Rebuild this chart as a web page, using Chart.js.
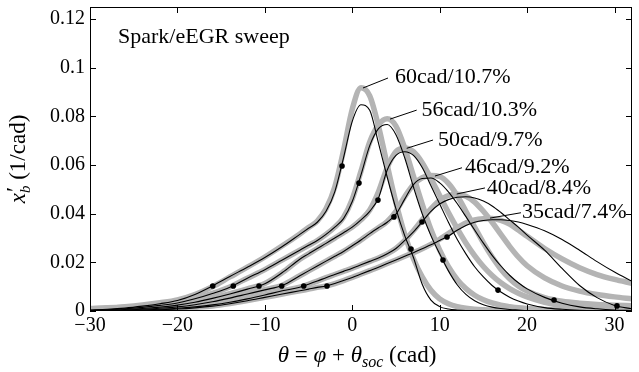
<!DOCTYPE html>
<html><head><meta charset="utf-8">
<script src="https://cdn.jsdelivr.net/npm/chart.js@4.4.0/dist/chart.umd.min.js"></script>
<style>html,body{margin:0;padding:0;background:#fff;}</style>
</head><body>
<canvas id="c" width="639" height="372"></canvas>
<script>
// ---- data ----
const theta = [-30,-28,-26,-24,-22,-20,-18,-16,-14,-12,-10,-8,-6,-5,-4,-3,-2,-1,0,1,2,3,4,5,6,7,8,9,10,11,12,13,14,15,16,17,18,19,20,22,24,26,28,30,32];

// model (thin black)
const m60 = [0.0004,0.0007,0.0012,0.002,0.003,0.0043,0.0068,0.0103,0.0142,0.018,0.022,0.0265,0.0315,0.034,0.0365,0.041,0.049,0.063,0.078,0.0848,0.0825,0.069,0.055,0.042,0.031,0.022,0.011,0.0045,0.0018,0.0008,0.0004,0.0002,0.0001,0,0,0,0,0,0,0,0,0,0,0,0];
const m56 = [0.0003,0.0005,0.0009,0.0015,0.0023,0.0033,0.005,0.0072,0.0098,0.0135,0.017,0.021,0.025,0.027,0.029,0.0315,0.0345,0.038,0.045,0.056,0.068,0.075,0.0767,0.0725,0.063,0.051,0.040,0.031,0.0235,0.0165,0.0108,0.0068,0.0042,0.0026,0.0016,0.001,0.0006,0.0004,0.0002,0.0001,0,0,0,0,0];
const m50 = [0.0002,0.0004,0.0006,0.001,0.0016,0.0024,0.0036,0.0052,0.007,0.009,0.0112,0.0158,0.0213,0.0235,0.0257,0.0278,0.030,0.0322,0.0345,0.0375,0.041,0.0465,0.058,0.064,0.0655,0.064,0.059,0.0515,0.044,0.0365,0.0295,0.0235,0.0182,0.014,0.0105,0.0078,0.0057,0.0041,0.0029,0.0014,0.0007,0.0003,0.0001,0,0];
const m46 = [0.0001,0.0002,0.0004,0.0007,0.0011,0.0017,0.0026,0.0038,0.0053,0.007,0.0087,0.0105,0.0145,0.0165,0.0185,0.0205,0.0225,0.0245,0.0268,0.0292,0.0318,0.0342,0.0365,0.0398,0.046,0.052,0.0545,0.0547,0.0527,0.049,0.0442,0.0388,0.0333,0.0279,0.0229,0.0185,0.0147,0.0116,0.0091,0.0056,0.0032,0.0017,0.0009,0.0004,0.0002];
const m40 = [0.0001,0.0001,0.0002,0.0004,0.0007,0.0011,0.0017,0.0025,0.0036,0.005,0.0066,0.0083,0.0098,0.011,0.0123,0.0137,0.015,0.0163,0.0176,0.019,0.0204,0.0218,0.0235,0.0257,0.029,0.0325,0.0367,0.041,0.044,0.0458,0.0468,0.047,0.0465,0.0452,0.0432,0.0405,0.0375,0.0345,0.0312,0.025,0.0175,0.0105,0.0055,0.0023,0.0009];
const m35 = [0.0001,0.0001,0.0002,0.0003,0.0005,0.0008,0.0013,0.002,0.003,0.0042,0.0056,0.007,0.0083,0.009,0.0097,0.0103,0.0113,0.0125,0.0138,0.0152,0.0166,0.018,0.0195,0.021,0.0225,0.024,0.0256,0.0272,0.029,0.0308,0.0332,0.0352,0.0365,0.0372,0.0375,0.0375,0.0372,0.0366,0.0356,0.033,0.0294,0.025,0.0203,0.016,0.0122];

// measured (thick gray)
const d60 = [0.001,0.0013,0.0018,0.0025,0.0034,0.0046,0.0068,0.01,0.014,0.018,0.0222,0.0268,0.0317,0.0343,0.037,0.042,0.051,0.066,0.083,0.0918,0.0885,0.076,0.06,0.0445,0.0315,0.0215,0.014,0.0085,0.005,0.003,0.0018,0.0011,0.0007,0.0005,0.0004,0.0003,0.0002,0.0002,0.0001,0.0001,0,0,0,0,0];
const d56 = [0.0008,0.0011,0.0015,0.002,0.0027,0.0036,0.0052,0.0073,0.0099,0.0135,0.017,0.021,0.025,0.027,0.029,0.0315,0.0345,0.0385,0.046,0.0575,0.0695,0.0765,0.079,0.076,0.067,0.0555,0.044,0.0335,0.025,0.0182,0.013,0.0092,0.0065,0.0046,0.0033,0.0024,0.0018,0.0013,0.001,0.0006,0.0004,0.0003,0.0002,0.0001,0.0001];
const d50 = [0.0006,0.0008,0.0011,0.0015,0.0021,0.0028,0.0039,0.0054,0.0071,0.0091,0.0113,0.0158,0.0213,0.0235,0.0257,0.0278,0.03,0.0322,0.0345,0.0375,0.0415,0.049,0.059,0.0655,0.067,0.0655,0.061,0.0545,0.0475,0.0405,0.034,0.028,0.0228,0.0183,0.0146,0.0116,0.0092,0.0073,0.0058,0.0036,0.0022,0.0013,0.0008,0.0005,0.0003];
const d46 = [0.0004,0.0006,0.0008,0.0011,0.0015,0.0021,0.003,0.0041,0.0055,0.0071,0.0088,0.0106,0.0145,0.0165,0.0185,0.0205,0.0225,0.0245,0.0268,0.0292,0.0318,0.0342,0.0368,0.041,0.047,0.052,0.0548,0.0557,0.0553,0.0525,0.0475,0.041,0.0345,0.028,0.0222,0.0172,0.0133,0.0103,0.0082,0.0055,0.004,0.0032,0.0027,0.0024,0.0022];
const d40 = [0.0003,0.0004,0.0005,0.0007,0.001,0.0014,0.0019,0.0027,0.0037,0.0051,0.0066,0.0083,0.0098,0.011,0.0123,0.0137,0.015,0.0163,0.0176,0.019,0.0204,0.0218,0.0235,0.0257,0.029,0.033,0.0375,0.042,0.0455,0.0475,0.048,0.0472,0.0448,0.041,0.0365,0.0315,0.0266,0.0222,0.0186,0.0136,0.0103,0.0082,0.0068,0.0058,0.005];
const d35 = [0.0002,0.0003,0.0004,0.0005,0.0007,0.001,0.0015,0.0021,0.0031,0.0043,0.0056,0.007,0.0083,0.009,0.0097,0.0103,0.0113,0.0125,0.0138,0.0152,0.0166,0.018,0.0195,0.021,0.0225,0.024,0.0256,0.0274,0.0295,0.0318,0.0342,0.0362,0.0374,0.0379,0.038,0.0373,0.0357,0.0333,0.0307,0.0257,0.0214,0.0178,0.015,0.013,0.0114];

// burn-point markers on the model curves
const dotX = [-15.96,-13.61,-10.67,-8.07,-5.55,-2.89, -1.17,0.77,2.94,4.77,7.98,10.84, 6.72,10.38,16.67,23.08,30.28];
const dotY = [0.0103,0.0103,0.0103,0.0103,0.0103,0.0103, 0.0596,0.0526,0.0456,0.0387,0.0366,0.0304, 0.0255,0.0210,0.0086,0.0045,0.0021];

const caseLabels = ['60cad/10.7%','56cad/10.3%','50cad/9.7%','46cad/9.2%','40cad/8.4%','35cad/7.4%'];
const xTickVals = [-30,-20,-10,0,10,20,30];
const xTickLabels = ['\u221230','\u221220','\u221210','0','10','20','30'];
const yTickVals = [0,0.02,0.04,0.06,0.08,0.1,0.12];
const yTickLabels = ['0','0.02','0.04','0.06','0.08','0.1','0.12'];

// label leader anchors (data coordinates): [peakX, peakY, endX, endY, textX, textY]
const leaders = [
  [1.23,0.0917, 4.09,0.0958, 4.89,0.0963],
  [4.32,0.0789, 7.37,0.0826, 7.93,0.0826],
  [6.23,0.0669, 9.24,0.0703, 9.81,0.0703],
  [9.46,0.0555, 12.55,0.0589, 12.9,0.0592],
  [11.95,0.0481, 15.18,0.0506, 15.38,0.0504],
  [15.76,0.0382, 19.3,0.0404, 19.42,0.0405]
];

const SERIF = '"Liberation Serif", "DejaVu Serif", serif';
const pts = arr => theta.map((x,i)=>({x:x, y:arr[i]}));
const measured = [d60,d56,d50,d46,d40,d35];
const model = [m60,m56,m50,m46,m40,m35];

const datasets = [];
measured.forEach(a => datasets.push({order:3, data:pts(a), showLine:true, borderColor:'#b4b4b4', borderWidth:5.5, pointRadius:0, cubicInterpolationMode:'monotone', borderCapStyle:'round', borderJoinStyle:'round'}));
model.forEach(a => datasets.push({order:2, data:pts(a), showLine:true, borderColor:'#000', borderWidth:1.1, pointRadius:0, cubicInterpolationMode:'monotone'}));
datasets.push({order:1, data:dotX.map((x,i)=>({x:x,y:dotY[i]})), showLine:false, pointRadius:2.8, pointBackgroundColor:'#000', pointBorderColor:'#000', pointBorderWidth:0});

function drawPieces(ctx, pieces, x, y, align) {
  let total = 0;
  pieces.forEach(p => { ctx.font = p.f; if (!p.nx) total += ctx.measureText(p.t).width; });
  let cx = align === 'center' ? x - total/2 : x;
  pieces.forEach(p => { ctx.font = p.f; ctx.fillText(p.t, cx + (p.dx||0), y + (p.dy||0)); if (!p.nx) cx += ctx.measureText(p.t).width; });
}

const overlay = {
  id: 'overlay',
  afterDraw(chart) {
    const ctx = chart.ctx, a = chart.chartArea, xs = chart.scales.x, ys = chart.scales.y;
    ctx.save();
    ctx.strokeStyle = '#000'; ctx.lineWidth = 1;
    ctx.strokeRect(Math.round(a.left)+0.5, Math.round(a.top)+0.5, Math.round(a.right-a.left)-1, Math.round(a.bottom-a.top)-1);
    ctx.beginPath();
    xTickVals.forEach(v => { const px = Math.round(xs.getPixelForValue(v))+0.5;
      ctx.moveTo(px, a.bottom); ctx.lineTo(px, a.bottom-6); ctx.moveTo(px, a.top); ctx.lineTo(px, a.top+6); });
    yTickVals.forEach(v => { const py = Math.round(ys.getPixelForValue(v))+0.5;
      ctx.moveTo(a.left, py); ctx.lineTo(a.left+6, py); ctx.moveTo(a.right, py); ctx.lineTo(a.right-6, py); });
    ctx.stroke();

    // leaders and case labels
    ctx.lineWidth = 1;
    ctx.fillStyle = '#000';
    ctx.textBaseline = 'middle'; ctx.textAlign = 'left';
    ctx.font = '22px ' + SERIF;
    leaders.forEach((L, i) => {
      ctx.beginPath();
      ctx.moveTo(xs.getPixelForValue(L[0]), ys.getPixelForValue(L[1]));
      ctx.lineTo(xs.getPixelForValue(L[2]), ys.getPixelForValue(L[3]));
      ctx.stroke();
      ctx.fillText(caseLabels[i], xs.getPixelForValue(L[4]), ys.getPixelForValue(L[5]));
    });

    // in-plot title
    ctx.textBaseline = 'alphabetic';
    ctx.font = '22px ' + SERIF;
    ctx.fillText('Spark/eEGR sweep', a.left + 28, a.top + 36);

    // x axis title
    const it = 'italic 23px ' + SERIF, rm = '23px ' + SERIF, sub = 'italic 16px ' + SERIF;
    drawPieces(ctx, [
      {t:'\u03B8', f:it}, {t:' = ', f:rm}, {t:'\u03C6', f:it}, {t:' + ', f:rm},
      {t:'\u03B8', f:it}, {t:'soc', f:sub, dy:5}, {t:' (cad)', f:rm}
    ], (a.left + a.right)/2 - 4, 362, 'center');

    // y axis title
    ctx.save();
    ctx.translate(25, (a.top + a.bottom)/2);
    ctx.rotate(-Math.PI/2);
    drawPieces(ctx, [
      {t:'x', f:it}, {t:'\u2032', f:rm, dy:-3, nx:true, dx:1}, {t:'b', f:'italic 15px ' + SERIF, dy:5}, {t:' (1/cad)', f:rm}
    ], 0, 0, 'center');
    ctx.restore();
    ctx.restore();
  }
};

new Chart(document.getElementById('c'), {
  type: 'scatter',
  data: { datasets: datasets },
  options: {
    responsive: false, animation: false, devicePixelRatio: 1,
    layout: { padding: { left: 0, right: 7, top: 7, bottom: 0 } },
    plugins: { legend: {display:false}, tooltip: {enabled:false} },
    scales: {
      x: {
        type: 'linear', min: -30, max: 32,
        grid: { display: false, drawTicks: false },
        border: { display: false },
        afterBuildTicks: s => { s.ticks = xTickVals.map(v => ({value: v})); },
        ticks: { padding: 3, color: '#000', font: { family: SERIF, size: 20 },
                 callback: v => xTickLabels[xTickVals.indexOf(v)] },
        afterFit: s => { s.height = 61; s.paddingLeft = 0; s.paddingRight = 0; s.paddingTop = 0; s.paddingBottom = 0; }
      },
      y: {
        type: 'linear', min: 0, max: 0.125,
        grid: { display: false, drawTicks: false },
        border: { display: false },
        afterBuildTicks: s => { s.ticks = yTickVals.map(v => ({value: v})); },
        ticks: { padding: 5, color: '#000', font: { family: SERIF, size: 20 },
                 callback: v => yTickLabels[yTickVals.indexOf(v)] },
        afterFit: s => { s.width = 90; s.paddingLeft = 0; s.paddingRight = 0; s.paddingTop = 0; s.paddingBottom = 0; }
      }
    }
  },
  plugins: [overlay]
});
</script>
</body></html>
